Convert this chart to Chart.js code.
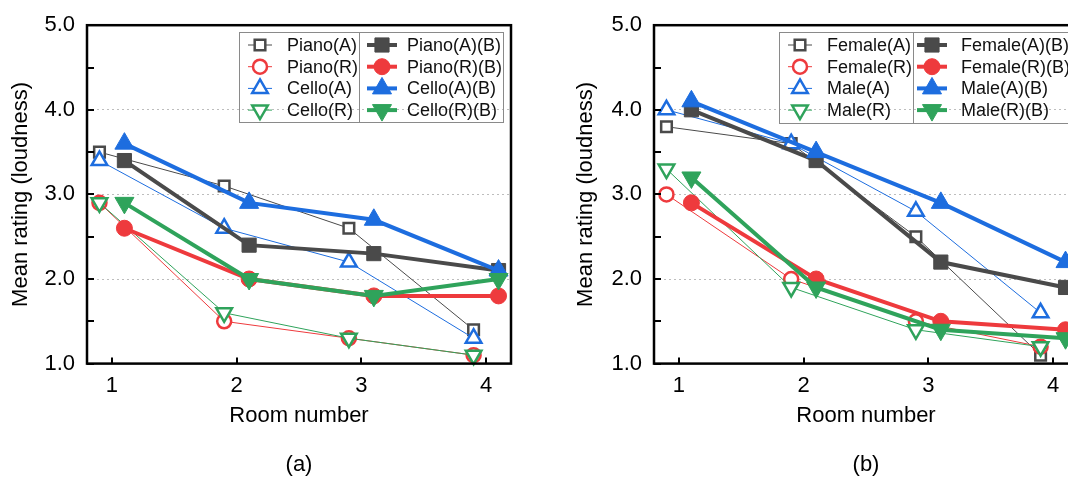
<!DOCTYPE html>
<html>
<head>
<meta charset="utf-8">
<script src="https://cdn.jsdelivr.net/npm/chart.js@4.4.1/dist/chart.umd.min.js"></script>
<style>
  html, body { margin: 0; padding: 0; background: #fff; overflow: hidden; }
  #wrapA { position: absolute; left: 0; top: 0; width: 534px; height: 478px; }
  #wrapB { position: absolute; left: 534px; top: 0; width: 534px; height: 478px; overflow: hidden; }
</style>
</head>
<body>
<div id="wrapA"><canvas id="chartA" width="534" height="478" style="width:534px;height:478px"></canvas></div>
<div id="wrapB"><canvas id="chartB" width="560" height="478" style="width:560px;height:478px"></canvas></div>
<script>
// room numbers and axis ticks
const rooms = [1, 2, 3, 4];
const xTicks = [1, 2, 3, 4];
const yMajorTicks = [1, 2, 3, 4, 5];
const yMinorTicks = [1.5, 2.5, 3.5, 4.5];
const yGridValues = [2, 3, 4];

// panel (a)
const labelsA = ['Piano(A)', 'Piano(R)', 'Cello(A)', 'Cello(R)',
                 'Piano(A)(B)', 'Piano(R)(B)', 'Cello(A)(B)', 'Cello(R)(B)'];
const pianoA  = [3.5, 3.1, 2.6, 1.4];
const pianoR  = [2.9, 1.5, 1.3, 1.1];
const celloA  = [3.4, 2.6, 2.2, 1.3];
const celloR  = [2.9, 1.6, 1.3, 1.1];
const pianoAB = [3.4, 2.4, 2.3, 2.1];
const pianoRB = [2.6, 2.0, 1.8, 1.8];
const celloAB = [3.6, 2.9, 2.7, 2.1];
const celloRB = [2.9, 2.0, 1.8, 2.0];

// panel (b)
const labelsB = ['Female(A)', 'Female(R)', 'Male(A)', 'Male(R)',
                 'Female(A)(B)', 'Female(R)(B)', 'Male(A)(B)', 'Male(R)(B)'];
const femaleA  = [3.8, 3.6, 2.5, 1.1];
const femaleR  = [3.0, 2.0, 1.5, 1.2];
const maleA    = [4.0, 3.6, 2.8, 1.6];
const maleR    = [3.3, 1.9, 1.4, 1.2];
const femaleAB = [4.0, 3.4, 2.2, 1.9];
const femaleRB = [2.9, 2.0, 1.5, 1.4];
const maleAB   = [4.1, 3.5, 2.9, 2.2];
const maleRB   = [3.2, 1.9, 1.4, 1.3];

const GREY = '#4a4a4a';
const RED = '#ee3a3d';
const BLUE = '#1d6ddf';
const GREEN = '#2fa35b';
const FONT = '"Liberation Sans", Arial, sans-serif';

Chart.defaults.font.family = FONT;
Chart.defaults.color = '#000';

// series shifted left (A/R) or right (B) of the room number
const pts = (vals, shift) => rooms.map((r, i) => ({ x: r + shift, y: vals[i] }));

// thin open-marker style
function openSet(label, vals, color, style, rot, radius, order) {
  return {
    label: label, data: pts(vals, -0.1), order: order,
    borderColor: color, borderWidth: 1,
    pointStyle: style, pointRotation: rot, pointRadius: radius,
    pointBackgroundColor: '#fff', pointBorderColor: color, pointBorderWidth: 2.5,
    legendHalf: 12
  };
}
// thick filled-marker style
function fullSet(label, vals, color, style, rot, radius, order) {
  return {
    label: label, data: pts(vals, 0.1), order: order,
    borderColor: color, borderWidth: 4,
    pointStyle: style, pointRotation: rot, pointRadius: radius,
    pointBackgroundColor: color, pointBorderColor: color, pointBorderWidth: 1,
    legendHalf: 15
  };
}

function buildSets(labels, series) {
  return [
    openSet(labels[0], series[0], GREY, 'rect', 0, 7.5, 8),
    openSet(labels[1], series[1], RED, 'circle', 0, 7, 7),
    openSet(labels[2], series[2], BLUE, 'triangle', 0, 9, 6),
    openSet(labels[3], series[3], GREEN, 'triangle', 180, 9, 5),
    fullSet(labels[4], series[4], GREY, 'rect', 0, 10, 4),
    fullSet(labels[5], series[5], RED, 'circle', 0, 8, 3),
    fullSet(labels[6], series[6], BLUE, 'triangle', 0, 11, 2),
    fullSet(labels[7], series[7], GREEN, 'triangle', 180, 11, 1)
  ];
}

// frame and inward tick marks
const frameTicks = {
  id: 'frameTicks',
  afterDatasetsDraw(chart) {
    const { ctx, chartArea: a } = chart;
    const sx = chart.scales.x, sy = chart.scales.y;
    ctx.save();
    ctx.strokeStyle = '#000';
    ctx.lineWidth = 2;
    ctx.beginPath();
    sy.ticks.forEach(t => {
      const y = Math.round(sy.getPixelForValue(t.value));
      ctx.moveTo(a.left, y); ctx.lineTo(a.left + 7, y);
    });
    sx.ticks.forEach(t => {
      const x = Math.round(sx.getPixelForValue(t.value));
      ctx.moveTo(x, a.bottom); ctx.lineTo(x, a.bottom - 6);
    });
    ctx.stroke();
    ctx.lineWidth = 2.5;
    ctx.strokeRect(a.left, a.top, a.right - a.left, a.bottom - a.top);
    ctx.restore();
  }
};

// two-column boxed legend
const boxLegend = {
  id: 'boxLegend',
  afterDraw(chart, args, o) {
    const ctx = chart.ctx;
    ctx.save();
    ctx.strokeStyle = '#8a8a8a';
    ctx.lineWidth = 1;
    ctx.strokeRect(o.left + 0.5, o.top + 0.5, o.right - o.left, o.bottom - o.top);
    ctx.beginPath();
    ctx.moveTo(o.split + 0.5, o.top);
    ctx.lineTo(o.split + 0.5, o.bottom);
    ctx.stroke();
    ctx.font = '18px ' + FONT;
    ctx.textBaseline = 'middle';
    chart.data.datasets.forEach((ds, i) => {
      const col = i < 4 ? 0 : 1;
      const y = o.top + o.first + (i % 4) * o.step;
      const mx = o.markX[col];
      ctx.strokeStyle = ds.borderColor;
      ctx.lineWidth = ds.borderWidth;
      ctx.beginPath();
      ctx.moveTo(mx - ds.legendHalf, y);
      ctx.lineTo(mx + ds.legendHalf, y);
      ctx.stroke();
      ctx.fillStyle = ds.pointBackgroundColor;
      ctx.strokeStyle = ds.pointBorderColor;
      ctx.lineWidth = ds.pointBorderWidth;
      Chart.helpers.drawPoint(ctx, {
        pointStyle: ds.pointStyle, rotation: ds.pointRotation,
        radius: ds.pointRadius, borderWidth: ds.pointBorderWidth
      }, mx, y);
      ctx.fillStyle = '#111';
      ctx.fillText(ds.label, o.textX[col], y + 1);
    });
    ctx.restore();
  }
};

function makeChart(id, sets, caption, yWidth, yTitlePad, padRight, legend) {
  const ctx = document.getElementById(id).getContext('2d');
  return new Chart(ctx, {
    type: 'line',
    data: { datasets: sets },
    plugins: [frameTicks, boxLegend],
    options: {
      responsive: false,
      animation: false,
      layout: { padding: { top: 24, right: padRight, bottom: 0, left: 0 } },
      elements: { line: { tension: 0 } },
      datasets: { line: { clip: false } },
      scales: {
        x: {
          type: 'linear', min: 0.8, max: 4.2,
          afterBuildTicks: s => { s.ticks = xTicks.map(v => ({ value: v })); },
          afterFit: s => { s.height = 88; },
          ticks: { font: { size: 22 }, color: '#000', padding: 9, autoSkip: false, maxRotation: 0,
                   callback: v => String(v) },
          grid: { display: false, drawTicks: false },
          border: { display: false },
          title: { display: true, text: 'Room number', font: { size: 22 }, color: '#000',
                   padding: { top: 0, bottom: 22 } }
        },
        y: {
          type: 'linear', min: 1, max: 5,
          afterBuildTicks: s => {
            s.ticks = yMajorTicks.concat(yMinorTicks).sort((p, q) => p - q).map(v => ({ value: v }));
          },
          afterFit: s => { s.width = yWidth; },
          ticks: { font: { size: 22 }, color: '#000', padding: 12, autoSkip: false,
                   callback: v => yMajorTicks.includes(v) ? v.toFixed(1) : '' },
          grid: {
            drawTicks: false, lineWidth: 1,
            color: c => (c.tick && yGridValues.includes(c.tick.value)) ? '#bdbdbd' : 'rgba(0,0,0,0)'
          },
          border: { display: false, dash: [2, 3] },
          title: { display: true, text: 'Mean rating (loudness)', font: { size: 22 }, color: '#000',
                   padding: { top: yTitlePad, bottom: 0 } }
        }
      },
      plugins: {
        legend: { display: false },
        tooltip: { enabled: false },
        title: { display: true, position: 'bottom', text: caption, fullSize: false,
                 font: { size: 22, weight: 'normal' }, color: '#000', padding: 0 },
        boxLegend: legend
      }
    }
  });
}

makeChart('chartA',
  buildSets(labelsA, [pianoA, pianoR, celloA, celloR, pianoAB, pianoRB, celloAB, celloRB]),
  '(a)', 87, 8, 23,
  { left: 239, right: 503, top: 32, bottom: 122, split: 359, first: 13, step: 21.7,
    markX: [260, 382], textX: [287, 407] });

makeChart('chartB',
  buildSets(labelsB, [femaleA, femaleR, maleA, maleR, femaleAB, femaleRB, maleAB, maleRB]),
  '(b)', 120, 39, 16,
  { left: 245, right: 545, top: 32, bottom: 123, split: 379, first: 13, step: 21.7,
    markX: [266, 398], textX: [293, 427] });
</script>
</body>
</html>
